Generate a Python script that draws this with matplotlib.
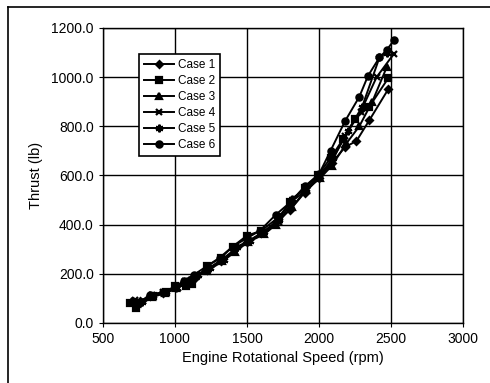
import matplotlib
matplotlib.use("Agg")
import matplotlib.pyplot as plt
from matplotlib.lines import Line2D
from matplotlib.ticker import FormatStrFormatter

plt.rcParams['font.family'] = ['Liberation Sans', 'DejaVu Sans']

labels = ["Case 1", "Case 2", "Case 3", "Case 4", "Case 5", "Case 6"]

x1 = [700, 760, 830, 920, 1000, 1060, 1130, 1220, 1320, 1410, 1500, 1600, 1700, 1800, 1900, 2000, 2090, 2180, 2260, 2350, 2480]
y1 = [85, 90, 110, 120, 145, 165, 180, 215, 250, 295, 330, 365, 410, 460, 530, 590, 650, 715, 740, 825, 950]

x2 = [690, 730, 850, 940, 1000, 1080, 1120, 1220, 1320, 1400, 1500, 1600, 1720, 1800, 1900, 1990, 2080, 2170, 2250, 2350, 2480]
y2 = [80, 60, 110, 125, 150, 150, 160, 230, 265, 310, 355, 375, 430, 490, 550, 600, 670, 750, 830, 880, 995]

x3 = [700, 740, 840, 930, 1010, 1090, 1140, 1220, 1330, 1420, 1510, 1620, 1700, 1810, 1910, 2010, 2090, 2190, 2280, 2370, 2470]
y3 = [90, 75, 105, 120, 140, 165, 190, 210, 250, 290, 330, 360, 400, 470, 540, 590, 640, 730, 800, 900, 1040]

x4 = [720, 780, 840, 920, 1020, 1070, 1150, 1230, 1330, 1420, 1510, 1610, 1720, 1820, 1920, 2010, 2080, 2180, 2290, 2400, 2520]
y4 = [95, 90, 115, 125, 140, 170, 190, 220, 260, 300, 330, 365, 410, 500, 540, 600, 650, 760, 860, 1000, 1095]

x5 = [710, 770, 850, 940, 1010, 1100, 1160, 1240, 1340, 1430, 1520, 1620, 1720, 1810, 1910, 2000, 2100, 2200, 2300, 2420, 2470]
y5 = [90, 85, 110, 125, 140, 175, 195, 225, 255, 310, 335, 370, 420, 505, 545, 600, 670, 780, 880, 1080, 1100]

x6 = [700, 750, 830, 920, 1000, 1060, 1130, 1220, 1310, 1400, 1500, 1590, 1700, 1800, 1900, 2000, 2080, 2180, 2280, 2340, 2420, 2470, 2520]
y6 = [85, 80, 115, 125, 145, 170, 195, 230, 265, 310, 345, 375, 440, 490, 555, 605, 700, 820, 920, 1005, 1080, 1110, 1150]

xs = [x1, x2, x3, x4, x5, x6]
ys = [y1, y2, y3, y4, y5, y6]

x_ticks = [500, 1000, 1500, 2000, 2500, 3000]
y_ticks = [0, 200, 400, 600, 800, 1000, 1200]

markers = ['D', 's', '^', 'x', (6, 2, 0), 'o']
msizes = [3.5, 5, 5, 5, 5.5, 4.5]

fig = plt.figure(figsize=(4.9, 3.83), dpi=100)
ax = fig.add_axes([0.210, 0.157, 0.735, 0.770])

for x, y, lab, m, ms in zip(xs, ys, labels, markers, msizes):
    ax.plot(x, y, color='black', lw=1.4, marker=m, ms=ms, mew=1.6,
            mfc='black', mec='black', label=lab)

ax.set_xlim(500, 3000)
ax.set_ylim(0, 1200)
ax.set_xticks(x_ticks)
ax.set_yticks(y_ticks)
ax.yaxis.set_major_formatter(FormatStrFormatter('%.1f'))
ax.grid(True, color='black', lw=1.0)
ax.set_axisbelow(True)
for s in ax.spines.values():
    s.set_color('black')
    s.set_linewidth(1.0)
ax.tick_params(direction='out', length=3, width=0.8, labelsize=10, colors='black')
ax.set_xlabel('Engine Rotational Speed (rpm)', fontsize=10.5, labelpad=4)
ax.set_ylabel('Thrust (lb)', fontsize=10.5, labelpad=6)

leg = ax.legend(loc='upper left', bbox_to_anchor=(0.1, 0.912), borderaxespad=0,
                fontsize=8.5, handlelength=2.6, handletextpad=0.3,
                labelspacing=0.35, borderpad=0.4, fancybox=False,
                framealpha=1, edgecolor='black')
leg.get_frame().set_linewidth(1.2)

fig.add_artist(Line2D([8/490, 8/490], [0, 1 - 7/383], transform=fig.transFigure,
                      color='black', lw=1.2))
fig.add_artist(Line2D([8/490, 1], [1 - 7/383, 1 - 7/383], transform=fig.transFigure,
                      color='black', lw=1.2))

fig.savefig('out.png', dpi=100)
